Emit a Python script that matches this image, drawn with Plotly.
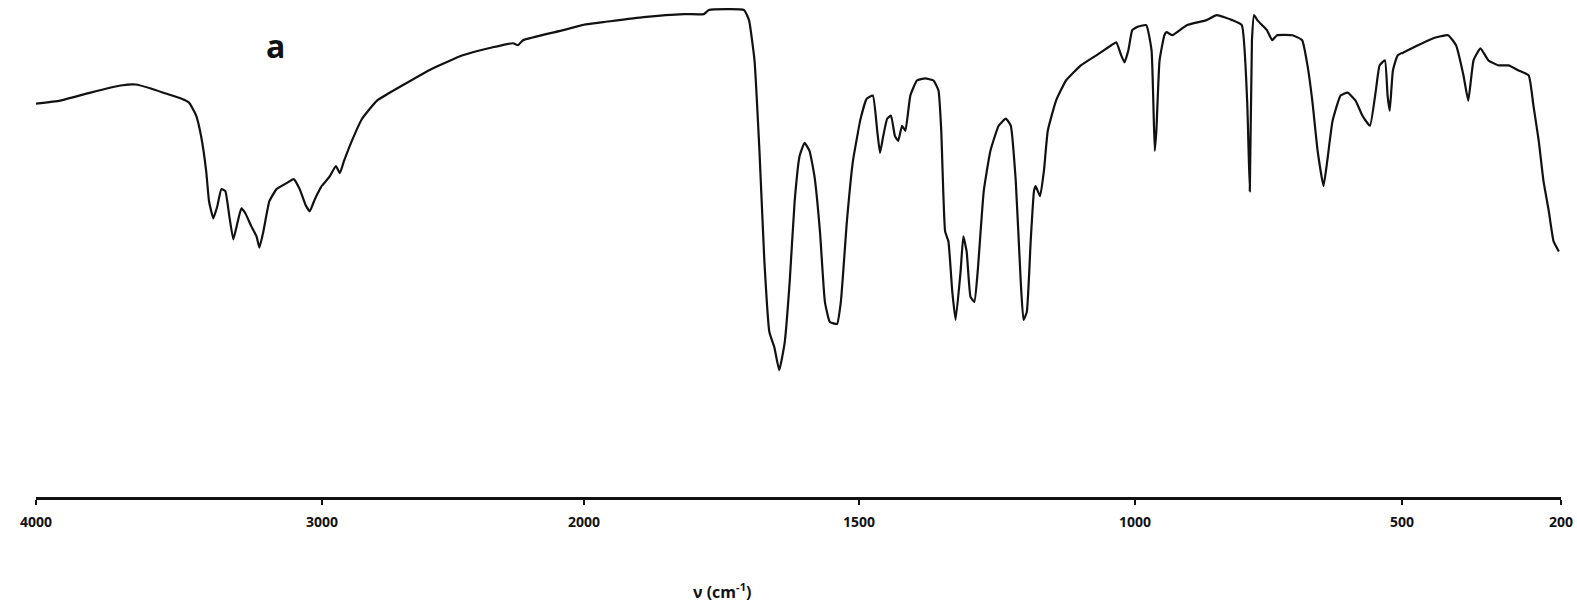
import plotly.graph_objects as go

# Infrared spectrum, sample "a": wavenumber (cm-1) and pen height (% of chart)
wavenumber = [
    4000, 3915, 3809, 3704, 3651, 3598, 3546, 3493, 3465, 3440, 3423, 3405, 3395,
    3380, 3366, 3352, 3338, 3324, 3310, 3296, 3282, 3268, 3247, 3229, 3219, 3205,
    3184, 3159, 3124, 3099, 3078, 3057, 3043, 3025, 3001,
    2970, 2947, 2932, 2916, 2886, 2847, 2790, 2694, 2578, 2463, 2348, 2271, 2252,
    2233, 2079,
    1965, 1892, 1818, 1782, 1773, 1709, 1700, 1690, 1681, 1672, 1663, 1654, 1645,
    1635, 1626, 1617, 1608, 1599, 1590, 1581, 1571, 1562, 1553, 1540, 1533, 1522,
    1511,
    1498, 1486, 1475, 1467, 1462, 1456, 1449, 1442, 1435, 1429, 1422, 1416, 1407,
    1395, 1380, 1365, 1356, 1351, 1344, 1338, 1331, 1325, 1316, 1311, 1305, 1298,
    1291, 1285, 1274, 1262, 1247, 1234, 1225, 1216, 1207, 1202, 1196, 1189, 1183,
    1180, 1172, 1165, 1158, 1143, 1125, 1098, 1070, 1043, 1034, 1025, 1019, 1012,
    1005,
    997, 979, 969, 963, 960, 954, 945, 941, 930, 903, 866, 847, 818, 800, 790, 785,
    781, 777, 771, 762, 753, 743, 734, 705, 687, 677, 668, 658, 647, 640, 630, 615,
    602, 587, 574, 560, 549, 542, 532, 527, 523, 517, 508,
    489, 470, 441, 413, 398, 384, 375, 365, 352, 337, 318, 299, 280, 261, 252, 242,
    233, 223, 214, 204,
]
transmittance = [
    79.4, 80.0, 81.6, 83.0, 83.2, 82.4, 81.4, 80.4, 79.6, 77.0, 73.0, 66.0, 60.0,
    56.6, 59.0, 62.4, 62.0, 57.0, 52.4, 55.6, 58.6, 57.6, 55.0, 53.0, 50.8, 54.0,
    60.0, 62.4, 63.6, 64.4, 62.4, 59.2, 58.0, 60.4, 63.0,
    65.0, 67.0, 65.6, 68.0, 72.0, 76.4, 80.0, 83.0, 86.4, 89.0, 90.6, 91.4, 91.0,
    92.0, 94.0,
    95.6, 96.6, 97.2, 97.2, 98.0, 98.0, 96.0, 88.0, 70.0, 48.0, 34.0, 31.0, 26.4,
    32.0, 44.0, 60.0, 69.0, 71.6, 70.0, 65.0, 54.0, 40.0, 36.0, 35.6, 40.0, 56.0,
    68.0,
    76.0, 80.4, 81.0, 74.0, 69.6, 73.0, 76.4, 77.0, 73.0, 72.0, 75.0, 74.0, 81.0,
    84.0, 84.4, 84.0, 82.0, 74.0, 54.0, 52.0, 42.0, 36.4, 46.0, 53.0, 50.0, 41.0,
    40.0, 46.0, 62.0, 70.0, 75.0, 76.4, 75.0, 64.0, 44.0, 36.4, 38.0, 52.0, 62.0,
    63.0, 61.0, 66.0, 74.0, 80.0, 84.0, 87.0, 89.0, 91.0, 91.6, 89.0, 87.6, 90.0,
    94.0,
    94.6, 95.0, 90.0, 70.0, 74.0, 88.0, 93.0, 93.6, 93.0, 95.0, 96.0, 97.0, 96.0,
    95.0, 80.0, 62.0, 92.0, 97.0, 96.0, 95.0, 94.0, 92.0, 93.0, 93.0, 92.0, 87.0,
    80.0, 70.0, 63.0, 68.0, 76.0, 81.0, 81.6, 80.0, 77.0, 75.0, 82.0, 87.0, 88.0,
    81.0, 78.0, 86.0, 89.0,
    90.0, 91.0, 92.4, 93.0, 91.0, 85.0, 80.0, 88.0, 90.4, 88.0, 87.0, 87.0, 86.0,
    85.0, 79.0, 72.0, 64.0, 58.0, 52.0, 50.0,
]

# Printed scale of the chart paper
tick_values = [4000, 3000, 2000, 1500, 1000, 500, 200]
tick_labels = ["4000", "3000", "2000", "1500", "1000", "500", "200"]

# Page layout: where each printed tick sits across the page (px)
W, H = 1577, 603
tick_px = [36, 322, 584, 859, 1135, 1402, 1561]
plot_bottom = 497
span = tick_px[-1] - tick_px[0]

fig = go.Figure()
n_seg = len(tick_values) - 1
for i in range(n_seg):
    hi, lo = tick_values[i], tick_values[i + 1]
    inside = [j for j, w in enumerate(wavenumber) if lo <= w <= hi]
    j0 = max(inside[0] - 1, 0)
    j1 = min(inside[-1] + 1, len(wavenumber) - 1)
    axis_ref = "x" if i == 0 else f"x{i + 1}"
    axis_key = "xaxis" if i == 0 else f"xaxis{i + 1}"
    fig.add_trace(go.Scatter(
        x=wavenumber[j0:j1 + 1], y=transmittance[j0:j1 + 1],
        xaxis=axis_ref, yaxis="y", mode="lines",
        line=dict(color="#111111", width=2.2, shape="spline", smoothing=0.4),
        hoverinfo="skip", showlegend=False,
    ))
    vals = [hi] if i < n_seg - 1 else [hi, lo]
    texts = [tick_labels[i]] if i < n_seg - 1 else [tick_labels[i], tick_labels[i + 1]]
    fig.layout[axis_key] = dict(
        domain=[(tick_px[i] - tick_px[0]) / span, (tick_px[i + 1] - tick_px[0]) / span],
        range=[hi, lo], anchor="y",
        tickmode="array", tickvals=vals, ticktext=texts,
        showline=True, linewidth=3, linecolor="#111111",
        ticks="outside", ticklen=5, tickwidth=2, tickcolor="#111111",
        ticklabelstandoff=5,
        tickfont=dict(family="Open Sans", size=14, color="#111111", weight="bold"),
        showgrid=False, zeroline=False, fixedrange=True,
    )

fig.update_layout(
    width=W, height=H,
    margin=dict(l=tick_px[0], r=W - tick_px[-1], t=0, b=H - plot_bottom),
    paper_bgcolor="white", plot_bgcolor="white",
    yaxis=dict(range=[1.2, 100], visible=False, fixedrange=True),
    annotations=[
        dict(text="a", xref="paper", yref="paper",
             x=(264 - tick_px[0]) / span, y=(plot_bottom - 22) / plot_bottom,
             showarrow=False,
             font=dict(family="Open Sans", size=32, color="#111111", weight="bold")),
        dict(text="\u03bd (cm<sup>-1</sup>)", xref="paper", yref="paper",
             x=(722 - tick_px[0]) / span, y=(plot_bottom - 605) / plot_bottom,
             showarrow=False,
             font=dict(family="Open Sans", size=16, color="#111111", weight="bold")),
    ],
)

fig.write_html("out.html")
